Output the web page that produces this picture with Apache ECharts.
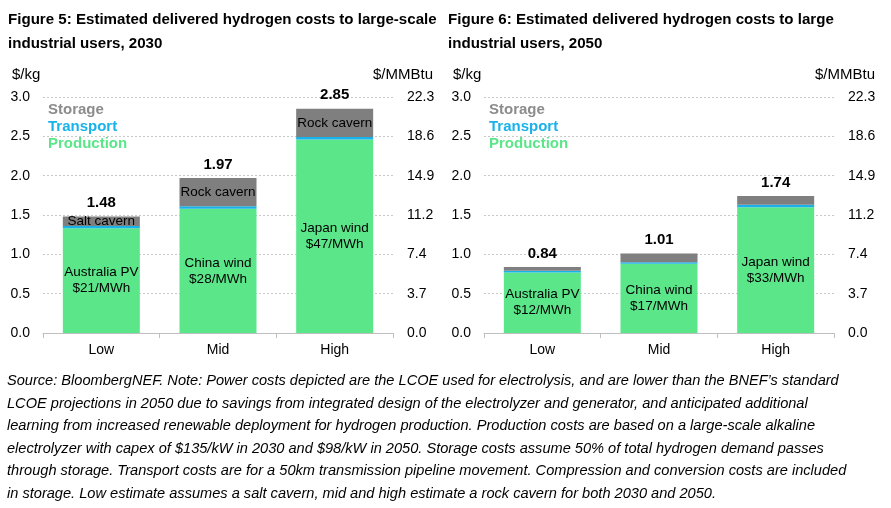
<!DOCTYPE html>
<html>
<head>
<meta charset="utf-8">
<script src="https://cdn.jsdelivr.net/npm/echarts@6/dist/echarts.min.js"></script>
<style>
html,body{margin:0;padding:0;background:#fff;}
#chart{width:891px;height:508px;}
</style>
</head>
<body>
<div id="chart"></div>
<script>
var categories = ['Low', 'Mid', 'High'];
var production2030 = [1.33, 1.58, 2.46];
var transport2030 = [0.03, 0.03, 0.03];
var storage2030 = [0.12, 0.36, 0.36];
var production2050 = [0.77, 0.88, 1.60];
var transport2050 = [0.02, 0.02, 0.03];
var storage2050 = [0.05, 0.11, 0.11];
var prodLabels2030 = ['Australia PV\n$21/MWh', 'China wind\n$28/MWh', 'Japan wind\n$47/MWh'];
var prodLabels2050 = ['Australia PV\n$12/MWh', 'China wind\n$17/MWh', 'Japan wind\n$33/MWh'];
var storageLabels2030 = ['Salt cavern', 'Rock cavern', 'Rock cavern'];
var leftTicks = ['0.0', '0.5', '1.0', '1.5', '2.0', '2.5', '3.0'];
var rightTicks = ['0.0', '3.7', '7.4', '11.2', '14.9', '18.6', '22.3'];

var FONT = 'Liberation Sans, Arial, sans-serif';
var C_PROD = '#5ce68a';
var C_TRANS = '#1ab2ea';
var C_STOR = '#7f7f7f';

function tickIndex(v) { return Math.round(v / 0.5); }

function yAxes(gridIndex) {
  var common = {
    type: 'value', gridIndex: gridIndex, min: 0, max: 3, interval: 0.5,
    axisLine: { show: false }, axisTick: { show: false }
  };
  return [
    Object.assign({}, common, {
      position: 'left',
      axisLabel: { color: '#000', fontFamily: FONT, fontSize: 14, margin: 13,
        formatter: function (v) { return leftTicks[tickIndex(v)]; } },
      splitLine: { show: true, lineStyle: { color: '#c8c8c8', type: [2, 2], width: 1 } }
    }),
    Object.assign({}, common, {
      position: 'right',
      axisLabel: { color: '#000', fontFamily: FONT, fontSize: 14, margin: 14,
        formatter: function (v) { return rightTicks[tickIndex(v)]; } },
      splitLine: { show: false }
    })
  ];
}

function xAxis(gridIndex) {
  return {
    type: 'category', gridIndex: gridIndex, data: categories,
    axisLine: { show: true, lineStyle: { color: '#bfbfbf', width: 1 } },
    axisTick: { show: true, length: 5, lineStyle: { color: '#bfbfbf' } },
    axisLabel: { color: '#000', fontFamily: FONT, fontSize: 14, margin: 10 }
  };
}

function seriesFor(gi, prod, trans, stor, prodLabels, storLabels) {
  var stack = 's' + gi;
  var totals = prod.map(function (p, i) { return p + trans[i] + stor[i]; });
  return [
    { type: 'bar', name: 'Production', xAxisIndex: gi, yAxisIndex: gi * 2, stack: stack,
      barWidth: 77, data: prod, itemStyle: { color: C_PROD },
      label: { show: true, position: 'inside', color: '#000', fontFamily: FONT, fontSize: 13.5, lineHeight: 16,
        formatter: function (p) { return prodLabels[p.dataIndex]; } } },
    { type: 'bar', name: 'Transport', xAxisIndex: gi, yAxisIndex: gi * 2, stack: stack,
      barWidth: 77, data: trans, itemStyle: { color: C_TRANS } },
    { type: 'bar', name: 'Storage', xAxisIndex: gi, yAxisIndex: gi * 2, stack: stack,
      barWidth: 77, data: stor, itemStyle: { color: C_STOR },
      label: { show: !!storLabels, position: 'inside', color: '#000', fontFamily: FONT, fontSize: 13.5,
        formatter: function (p) { return storLabels ? storLabels[p.dataIndex] : ''; } } },
    { type: 'bar', name: 'Total', xAxisIndex: gi, yAxisIndex: gi * 2, stack: stack,
      barWidth: 77, data: totals.map(function () { return 0; }), itemStyle: { color: 'transparent' },
      label: { show: true, position: 'top', distance: 6, color: '#000', fontFamily: FONT, fontSize: 15, fontWeight: 'bold',
        formatter: function (p) { return totals[p.dataIndex].toFixed(2); } } }
  ];
}

function txt(x, y, text, opts) {
  return { type: 'text', x: x, y: y, style: Object.assign({
    text: text, fill: '#000', font: '14px ' + FONT, textVerticalAlign: 'middle'
  }, opts || {}) };
}

var footnote = [
  'Source: BloombergNEF. Note: Power costs depicted are the LCOE used for electrolysis, and are lower than the BNEF\u2019s standard',
  'LCOE projections in 2050 due to savings from integrated design of the electrolyzer and generator, and anticipated additional',
  'learning from increased renewable deployment for hydrogen production. Production costs are based on a large-scale alkaline',
  'electrolyzer with capex of $135/kW in 2030 and $98/kW in 2050. Storage costs assume 50% of total hydrogen demand passes',
  'through storage. Transport costs are for a 50km transmission pipeline movement. Compression and conversion costs are included',
  'in storage. Low estimate assumes a salt cavern, mid and high estimate a rock cavern for both 2030 and 2050.'
];

var graphics = [
  txt(8, 20, 'Figure 5: Estimated delivered hydrogen costs to large-scale', { font: 'bold 15.1px ' + FONT }),
  txt(8, 44, 'industrial users, 2030', { font: 'bold 15.1px ' + FONT }),
  txt(448, 20, 'Figure 6: Estimated delivered hydrogen costs to large', { font: 'bold 15.1px ' + FONT }),
  txt(448, 44, 'industrial users, 2050', { font: 'bold 15.1px ' + FONT }),
  txt(12, 75, '$/kg', { font: '15px ' + FONT }),
  txt(433, 75, '$/MMBtu', { textAlign: 'right', font: '15px ' + FONT }),
  txt(453, 75, '$/kg', { font: '15px ' + FONT }),
  txt(875, 75, '$/MMBtu', { textAlign: 'right', font: '15px ' + FONT })
];
[[48, 0], [489, 1]].forEach(function (p) {
  graphics.push(txt(p[0], 110, 'Storage', { font: 'bold 15px ' + FONT, fill: '#8c8c8c' }));
  graphics.push(txt(p[0], 127, 'Transport', { font: 'bold 15px ' + FONT, fill: C_TRANS }));
  graphics.push(txt(p[0], 144, 'Production', { font: 'bold 15px ' + FONT, fill: C_PROD }));
});
footnote.forEach(function (line, i) {
  graphics.push(txt(7, 381 + i * 22.6, line, { font: 'italic 14.6px ' + FONT }));
});

var chart = echarts.init(document.getElementById('chart'), null, { renderer: 'canvas' });
chart.setOption({
  backgroundColor: '#fff',
  animation: false,
  grid: [
    { left: 43, width: 350, top: 97, height: 236 },
    { left: 484, width: 350, top: 97, height: 236 }
  ],
  xAxis: [xAxis(0), xAxis(1)],
  yAxis: yAxes(0).concat(yAxes(1)),
  series: seriesFor(0, production2030, transport2030, storage2030, prodLabels2030, storageLabels2030)
    .concat(seriesFor(1, production2050, transport2050, storage2050, prodLabels2050, null)),
  graphic: graphics
});
</script>
</body>
</html>
